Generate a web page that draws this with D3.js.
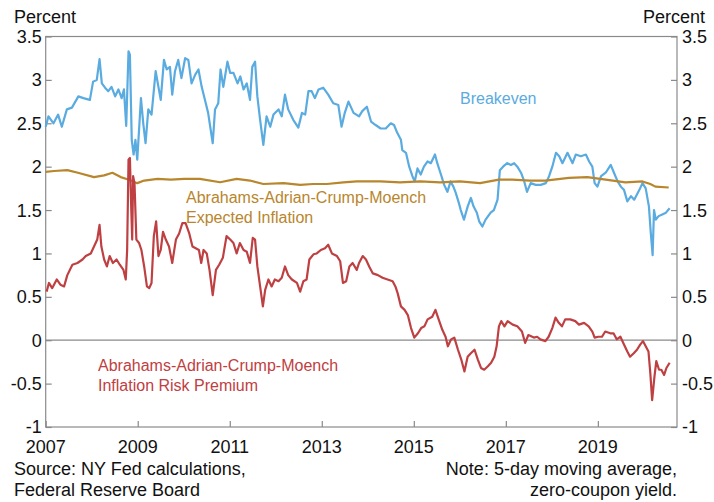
<!DOCTYPE html>
<html><head><meta charset="utf-8">
<script src="https://cdn.jsdelivr.net/npm/d3@7"></script>
<style>html,body{margin:0;padding:0;background:#fff;}svg{display:block;font-family:"Liberation Sans",Arial,sans-serif;}</style>
</head><body><svg id="chart" width="714" height="502"></svg>
<script>
// ---- data (decimal years, percent) ----
const yTicks = [-1, -0.5, 0, 0.5, 1, 1.5, 2, 2.5, 3, 3.5];
const yTickLabels = ["-1", "-0.5", "0", "0.5", "1", "1.5", "2", "2.5", "3", "3.5"];
const xTicks = [2007, 2009, 2011, 2013, 2015, 2017, 2019];
const xTickLabels = ["2007", "2009", "2011", "2013", "2015", "2017", "2019"];

const breakevenYears = [2007.00,2007.06,2007.17,2007.27,2007.35,2007.46,2007.57,2007.71,2007.82,2007.96,2008.03,2008.11,2008.17,2008.22,2008.29,2008.36,2008.43,2008.51,2008.58,2008.65,2008.70,2008.75,2008.80,2008.83,2008.87,2008.91,2008.95,2008.99,2009.07,2009.12,2009.17,2009.23,2009.30,2009.39,2009.45,2009.50,2009.57,2009.63,2009.70,2009.75,2009.81,2009.88,2009.95,2010.03,2010.10,2010.17,2010.25,2010.32,2010.39,2010.46,2010.53,2010.63,2010.68,2010.75,2010.80,2010.86,2010.95,2011.01,2011.08,2011.17,2011.23,2011.30,2011.37,2011.44,2011.49,2011.55,2011.60,2011.66,2011.73,2011.80,2011.88,2011.95,2012.06,2012.13,2012.20,2012.27,2012.38,2012.49,2012.57,2012.64,2012.71,2012.78,2012.85,2012.93,2013.03,2013.14,2013.25,2013.36,2013.43,2013.50,2013.58,2013.69,2013.81,2013.88,2013.98,2014.07,2014.17,2014.28,2014.39,2014.50,2014.57,2014.64,2014.72,2014.75,2014.83,2014.90,2014.97,2015.02,2015.08,2015.15,2015.22,2015.30,2015.37,2015.46,2015.51,2015.59,2015.66,2015.73,2015.80,2015.86,2015.91,2015.98,2016.02,2016.09,2016.17,2016.24,2016.30,2016.37,2016.42,2016.49,2016.56,2016.67,2016.74,2016.82,2016.87,2016.94,2017.03,2017.11,2017.18,2017.25,2017.33,2017.40,2017.46,2017.54,2017.65,2017.76,2017.87,2017.94,2018.01,2018.09,2018.16,2018.23,2018.34,2018.45,2018.52,2018.63,2018.74,2018.81,2018.88,2018.93,2018.99,2019.07,2019.17,2019.28,2019.35,2019.43,2019.50,2019.57,2019.64,2019.72,2019.79,2019.90,2019.97,2020.04,2020.11,2020.15,2020.19,2020.22,2020.26,2020.32,2020.40,2020.48,2020.56];
const breakevenValues = [2.46,2.58,2.50,2.60,2.46,2.66,2.68,2.81,2.79,2.77,2.98,3.00,3.24,2.96,2.91,2.87,2.92,2.81,2.89,2.79,2.89,2.47,3.33,3.29,2.31,2.14,2.31,2.08,2.79,2.50,2.27,2.66,2.60,3.10,2.92,2.77,3.23,3.12,3.15,2.83,3.10,3.23,3.02,3.25,3.23,2.96,3.06,3.12,2.92,2.77,2.62,2.27,2.66,2.73,3.12,2.92,3.21,3.08,3.08,2.96,3.04,2.89,2.96,2.77,3.15,3.21,2.81,2.54,2.25,2.58,2.46,2.60,2.66,2.58,2.83,2.66,2.54,2.45,2.62,2.60,2.87,2.87,2.79,2.89,2.91,2.83,2.73,2.71,2.46,2.62,2.75,2.62,2.58,2.64,2.69,2.52,2.48,2.44,2.44,2.50,2.48,2.39,2.31,2.19,2.16,2.00,1.89,1.83,1.98,1.91,2.00,2.06,2.04,2.14,2.04,1.91,1.79,1.71,1.83,1.77,1.70,1.58,1.50,1.39,1.54,1.64,1.54,1.47,1.37,1.31,1.39,1.47,1.50,1.62,1.96,2.00,2.04,2.02,2.04,2.00,1.93,1.83,1.71,1.81,1.79,1.79,1.81,1.89,2.00,2.16,2.12,2.04,2.16,2.04,2.14,2.12,2.14,2.06,2.00,1.81,1.77,1.89,1.93,2.02,1.93,1.83,1.77,1.73,1.60,1.66,1.62,1.73,1.81,1.75,1.54,1.24,0.98,1.50,1.39,1.43,1.45,1.47,1.52];

const expectedYears = [2007.00,2007.18,2007.47,2007.70,2008.05,2008.27,2008.45,2008.63,2008.81,2008.99,2009.14,2009.43,2009.72,2010.01,2010.35,2010.79,2011.15,2011.44,2011.73,2012.17,2012.53,2012.81,2013.11,2013.47,2013.76,2014.27,2014.70,2015.14,2015.57,2016.00,2016.44,2016.85,2017.14,2017.53,2017.86,2018.37,2018.77,2019.17,2019.60,2019.97,2020.14,2020.25,2020.54];
const expectedValues = [1.94,1.95,1.96,1.93,1.88,1.90,1.93,1.88,1.85,1.81,1.84,1.86,1.85,1.86,1.86,1.82,1.86,1.84,1.80,1.81,1.79,1.80,1.80,1.82,1.83,1.83,1.82,1.83,1.82,1.83,1.81,1.85,1.85,1.84,1.84,1.87,1.88,1.85,1.82,1.83,1.80,1.77,1.76];

const premiumYears = [2007.02,2007.07,2007.14,2007.24,2007.32,2007.40,2007.47,2007.58,2007.69,2007.80,2007.87,2007.98,2008.05,2008.12,2008.17,2008.21,2008.27,2008.33,2008.39,2008.46,2008.54,2008.61,2008.69,2008.74,2008.77,2008.80,2008.83,2008.86,2008.88,2008.90,2008.93,2008.97,2009.03,2009.08,2009.14,2009.20,2009.25,2009.30,2009.35,2009.40,2009.45,2009.50,2009.55,2009.61,2009.68,2009.75,2009.83,2009.90,2009.97,2010.04,2010.12,2010.19,2010.26,2010.33,2010.38,2010.43,2010.50,2010.56,2010.63,2010.70,2010.77,2010.85,2010.93,2011.01,2011.08,2011.15,2011.22,2011.30,2011.37,2011.44,2011.50,2011.55,2011.60,2011.66,2011.72,2011.77,2011.84,2011.91,2011.98,2012.06,2012.13,2012.20,2012.27,2012.35,2012.46,2012.53,2012.60,2012.67,2012.73,2012.82,2012.89,2012.98,2013.07,2013.14,2013.22,2013.33,2013.40,2013.46,2013.53,2013.60,2013.67,2013.76,2013.81,2013.89,2013.96,2014.03,2014.11,2014.22,2014.32,2014.43,2014.54,2014.60,2014.65,2014.72,2014.80,2014.87,2014.94,2015.01,2015.09,2015.16,2015.23,2015.30,2015.40,2015.47,2015.54,2015.62,2015.69,2015.74,2015.81,2015.88,2015.96,2016.03,2016.10,2016.17,2016.24,2016.32,2016.39,2016.46,2016.53,2016.61,2016.68,2016.75,2016.80,2016.85,2016.90,2016.97,2017.04,2017.15,2017.25,2017.35,2017.42,2017.49,2017.61,2017.68,2017.75,2017.86,2017.93,2018.01,2018.08,2018.15,2018.22,2018.29,2018.40,2018.51,2018.59,2018.70,2018.80,2018.88,2018.93,2019.01,2019.09,2019.16,2019.27,2019.34,2019.41,2019.49,2019.55,2019.64,2019.70,2019.78,2019.85,2019.92,2019.98,2020.04,2020.10,2020.14,2020.18,2020.23,2020.27,2020.33,2020.38,2020.44,2020.49,2020.56];
const premiumValues = [0.56,0.66,0.60,0.70,0.64,0.62,0.75,0.87,0.89,0.93,0.97,1.00,1.08,1.16,1.33,1.08,0.93,0.85,0.97,0.89,0.93,0.87,0.81,0.70,1.04,2.08,2.10,1.50,1.16,1.89,1.81,1.16,1.12,1.04,0.85,0.62,0.60,0.66,1.20,1.37,0.97,1.04,1.25,1.16,1.08,0.89,1.16,1.23,1.35,1.35,1.23,1.08,1.06,1.04,0.89,1.04,1.00,0.81,0.52,0.81,0.87,0.95,1.20,1.16,1.12,1.00,1.12,1.04,1.02,0.89,1.18,1.16,0.85,0.62,0.39,0.58,0.70,0.62,0.70,0.68,0.72,0.85,0.75,0.70,0.66,0.56,0.68,0.70,0.93,0.99,1.00,1.04,1.06,1.10,1.00,0.97,0.91,0.66,0.68,0.85,0.89,0.81,0.89,0.97,0.93,0.85,0.77,0.75,0.72,0.70,0.68,0.62,0.54,0.39,0.35,0.29,0.14,0.03,0.08,0.14,0.16,0.24,0.27,0.35,0.24,0.12,0.04,-0.07,0.01,0.03,-0.11,-0.22,-0.36,-0.19,-0.15,-0.11,-0.22,-0.32,-0.34,-0.30,-0.26,-0.19,-0.07,0.16,0.22,0.16,0.22,0.18,0.16,0.10,-0.03,0.06,0.03,0.04,0.01,-0.01,0.04,0.14,0.26,0.20,0.16,0.24,0.24,0.22,0.18,0.20,0.16,0.10,0.03,0.04,0.04,0.10,0.08,0.08,0.01,0.04,-0.03,-0.13,-0.19,-0.15,-0.11,-0.05,-0.01,-0.07,-0.13,-0.38,-0.69,-0.42,-0.24,-0.34,-0.34,-0.40,-0.32,-0.26];

const seriesNames = ["Breakeven", "Abrahams-Adrian-Crump-Moench Expected Inflation", "Abrahams-Adrian-Crump-Moench Inflation Risk Premium"];

// ---- layout ----
const L = 45.7, R = 677, T = 36.5, B = 427;
const svg = d3.select("#chart");
const x = d3.scaleLinear().domain([2007, 2020.72]).range([L, R]);
const y = d3.scaleLinear().domain([-1, 3.5]).range([B, T]);
const axisColor = "#8a8a8a";
const fontSize = 18;

// zero line
svg.append("line").attr("x1", L).attr("x2", R).attr("y1", y(0)).attr("y2", y(0))
  .attr("stroke", "#8a8a8a").attr("stroke-width", 1.2);

// frame
svg.append("rect").attr("x", L).attr("y", T).attr("width", R - L).attr("height", B - T)
  .attr("fill", "none").attr("stroke", axisColor).attr("stroke-width", 1.2);

const fmtY = v => yTickLabels[yTicks.indexOf(v)];
const fmtX = v => xTickLabels[xTicks.indexOf(v)];

// left axis (ticks inward)
const gl = svg.append("g").attr("transform", `translate(${L},0)`)
  .call(d3.axisRight(y).tickValues(yTicks).tickFormat("").tickSizeInner(6).tickSizeOuter(0));
gl.select(".domain").remove();
gl.selectAll("line").attr("stroke", axisColor).attr("stroke-width", 1.2);
// right axis (ticks inward)
const gr = svg.append("g").attr("transform", `translate(${R},0)`)
  .call(d3.axisLeft(y).tickValues(yTicks).tickFormat("").tickSizeInner(6).tickSizeOuter(0));
gr.select(".domain").remove();
gr.selectAll("line").attr("stroke", axisColor).attr("stroke-width", 1.2);
// bottom axis (ticks upward)
const gb = svg.append("g").attr("transform", `translate(0,${B})`)
  .call(d3.axisTop(x).tickValues(xTicks).tickFormat("").tickSizeInner(6).tickSizeOuter(0));
gb.select(".domain").remove();
gb.selectAll("line").attr("stroke", axisColor).attr("stroke-width", 1.2);

// tick labels
svg.append("g").selectAll("text").data(yTicks).join("text")
  .attr("x", L - 4).attr("y", d => y(d)).attr("dy", "0.36em").attr("text-anchor", "end")
  .attr("font-size", fontSize).attr("fill", "#111").text(fmtY);
svg.append("g").selectAll("text").data(yTicks).join("text")
  .attr("x", R + 5).attr("y", d => y(d)).attr("dy", "0.36em").attr("text-anchor", "start")
  .attr("font-size", fontSize).attr("fill", "#111").text(fmtY);
svg.append("g").selectAll("text").data(xTicks).join("text")
  .attr("x", d => x(d)).attr("y", B + 26).attr("text-anchor", "middle")
  .attr("font-size", fontSize).attr("fill", "#111").text(fmtX);

// unit labels
svg.append("text").attr("x", 14).attr("y", 23).attr("font-size", fontSize).attr("fill", "#111").text("Percent");
svg.append("text").attr("x", 705).attr("y", 23).attr("text-anchor", "end").attr("font-size", fontSize).attr("fill", "#111").text("Percent");

// lines
const line = d3.line().x(d => x(d[0])).y(d => y(d[1]));
const zip = (a, b) => a.map((v, i) => [v, b[i]]);
const colors = ["#5aabe0", "#b8862c", "#bf4042"];
svg.append("path").datum(zip(breakevenYears, breakevenValues)).attr("d", line)
  .attr("fill", "none").attr("stroke", colors[0]).attr("stroke-width", 2.2).attr("stroke-linejoin", "round");
svg.append("path").datum(zip(expectedYears, expectedValues)).attr("d", line)
  .attr("fill", "none").attr("stroke", colors[1]).attr("stroke-width", 2.2).attr("stroke-linejoin", "round");
svg.append("path").datum(zip(premiumYears, premiumValues)).attr("d", line)
  .attr("fill", "none").attr("stroke", colors[2]).attr("stroke-width", 2.2).attr("stroke-linejoin", "round");

// series annotations
const annFont = 16;
svg.append("text").attr("x", 460).attr("y", 104).attr("font-size", annFont).attr("fill", colors[0]).text("Breakeven");
const ga = svg.append("text").attr("font-size", annFont).attr("fill", colors[1]);
ga.append("tspan").attr("x", 186).attr("y", 203).text("Abrahams-Adrian-Crump-Moench");
ga.append("tspan").attr("x", 186).attr("y", 223).text("Expected Inflation");
const ra = svg.append("text").attr("font-size", annFont).attr("fill", colors[2]);
ra.append("tspan").attr("x", 98).attr("y", 371).text("Abrahams-Adrian-Crump-Moench");
ra.append("tspan").attr("x", 98).attr("y", 391).text("Inflation Risk Premium");

// notes
const src = svg.append("text").attr("font-size", fontSize).attr("fill", "#111");
src.append("tspan").attr("x", 14).attr("y", 475).text("Source: NY Fed calculations,");
src.append("tspan").attr("x", 14).attr("y", 496).text("Federal Reserve Board");
const note = svg.append("text").attr("font-size", fontSize).attr("fill", "#111").attr("text-anchor", "end");
note.append("tspan").attr("x", 677).attr("y", 475).text("Note: 5-day moving average,");
note.append("tspan").attr("x", 677).attr("y", 496).text("zero-coupon yield.");
</script></body></html>
